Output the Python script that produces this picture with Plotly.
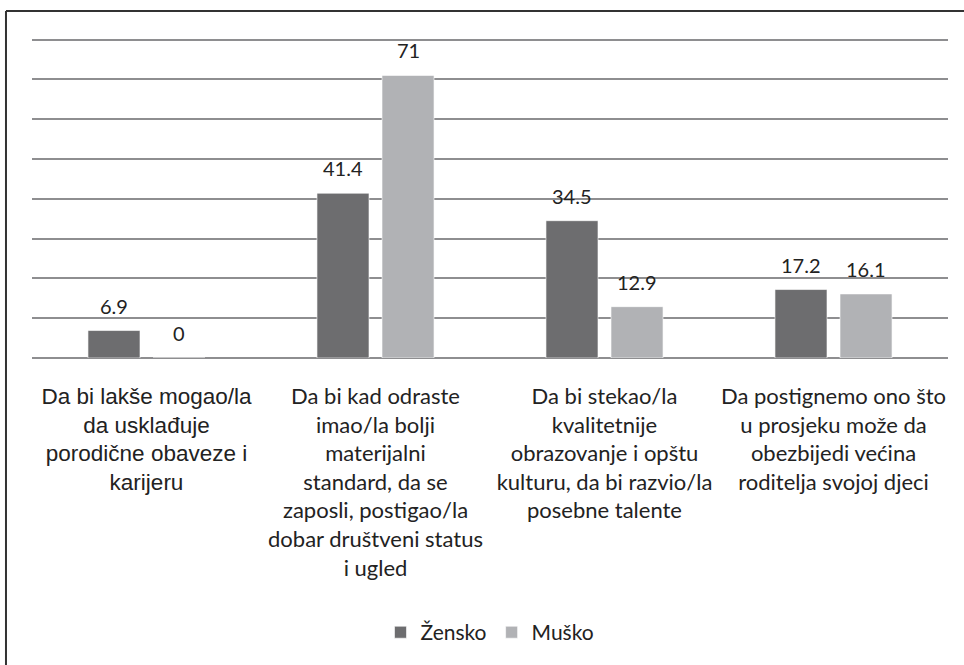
import plotly.graph_objects as go

categories = [
    "Da bi lakše mogao/la<br>da usklađuje<br>porodične obaveze i<br>karijeru",
    "Da bi kad odraste<br>imao/la bolji<br>materijalni<br>standard, da se<br>zaposli, postigao/la<br>dobar društveni status<br>i ugled",
    "Da bi stekao/la<br>kvalitetnije<br>obrazovanje i opštu<br>kulturu, da bi razvio/la<br>posebne talente",
    "Da postignemo ono što<br>u prosjeku može da<br>obezbijedi većina<br>roditelja svojoj djeci",
]
zensko = [6.9, 41.4, 34.5, 17.2]
musko = [0, 71, 12.9, 16.1]
series_names = ["Žensko", "Muško"]
colors = ["#6d6d6f", "#b1b2b5"]

x_idx = list(range(len(categories)))

fig = go.Figure()
for name, vals, col in zip(series_names, [zensko, musko], colors):
    fig.add_trace(go.Bar(
        x=x_idx, y=vals, name=name,
        marker=dict(color=col, line=dict(color="rgba(255,255,255,0.6)", width=1)),
        hoverinfo="skip",
    ))

annotations = []
for vals, shift in [(zensko, -32.5), (musko, 32.5)]:
    for i, v in enumerate(vals):
        annotations.append(dict(
            x=i, y=v, xref="x", yref="y", text=f"{v:g}", showarrow=False,
            xshift=shift, yshift=11, yanchor="bottom",
            font=dict(family="Lato, Carlito, sans-serif", size=20, color="#222222"),
        ))

ticktext = ['<span style="font-family:Arial;font-size:22.5px">' + categories[0] + "</span>"] + categories[1:]

fig.update_layout(
    width=964, height=665,
    margin=dict(l=32, r=16, t=38, b=307, autoexpand=False),
    paper_bgcolor="white", plot_bgcolor="white",
    barmode="group", bargap=0.432, bargroupgap=0.2,
    font=dict(family="Lato, sans-serif", color="#222222"),
    showlegend=True,
    legend=dict(orientation="h", x=0.5, xanchor="center", y=-0.858, yanchor="middle",
                font=dict(size=21, family="Lato, sans-serif", color="#222222"),
                itemwidth=30, traceorder="normal"),
    annotations=annotations,
    shapes=[
        dict(type="line", xref="paper", yref="paper", x0=-0.0284, x1=-0.0284, y0=-1.2, y1=1.084,
             line=dict(color="#333333", width=2)),
        dict(type="line", xref="paper", yref="paper", x0=-0.0284, x1=1.1, y0=1.084, y1=1.084,
             line=dict(color="#333333", width=2)),
    ],
)
fig.update_xaxes(
    tickmode="array", tickvals=x_idx, ticktext=ticktext, automargin=False,
    range=[-0.5, 3.5], showgrid=False, zeroline=False, showline=False,
    ticks="", ticklabelstandoff=23,
    tickfont=dict(size=22, family="Lato, sans-serif", color="#222222"),
)
fig.update_yaxes(
    range=[0, 80.4], dtick=10, showgrid=True, gridcolor="#8e8e90", gridwidth=2,
    zeroline=True, zerolinecolor="#8e8e90", zerolinewidth=2, automargin=False,
    showticklabels=False, ticks="", showline=False,
)

fig.write_html("out.html", config={"displayModeBar": False},
               post_script="document.body.style.margin='0';")
